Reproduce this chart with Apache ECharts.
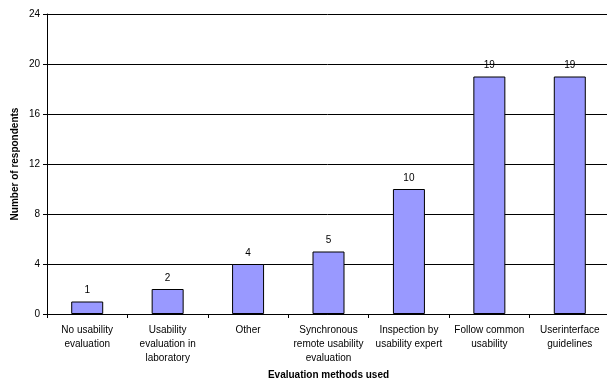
<!DOCTYPE html>
<html><head><meta charset="utf-8">
<script src="https://cdn.jsdelivr.net/npm/echarts@6/dist/echarts.min.js"></script>
<style>html,body{margin:0;padding:0;background:#fff}#c{width:607px;height:382px}</style>
</head><body><div id="c"></div>
<script>
const categories = ["No usability\nevaluation","Usability\nevaluation in\nlaboratory","Other","Synchronous\nremote usability\nevaluation","Inspection by\nusability expert","Follow common\nusability","Userinterface\nguidelines"];
const values = [1,2,4,5,10,19,19];
const yTicks = {min:0,max:24,interval:4};
const chart = echarts.init(document.getElementById('c'),null,{renderer:'canvas'});
const font = 'Liberation Sans, Arial, sans-serif';
chart.setOption({
  animation:false,
  grid:{left:47,top:14,width:563,height:300,outerBoundsMode:'none',containLabel:false},
  xAxis:{type:'category',data:categories,
    name:'Evaluation methods used',nameLocation:'middle',nameGap:56,
    nameTextStyle:{fontFamily:font,fontSize:10,fontWeight:'bold',color:'#000'},
    axisLine:{lineStyle:{color:'#000',width:1}},
    axisTick:{show:true,length:4,inside:false,lineStyle:{color:'#000'}},
    axisLabel:{fontFamily:font,fontSize:10,color:'#000',lineHeight:14,margin:9,interval:0}},
  yAxis:{type:'value',min:yTicks.min,max:yTicks.max,interval:yTicks.interval,
    name:'Number of respondents',nameLocation:'middle',nameGap:27,nameMoveOverlap:false,
    nameTextStyle:{fontFamily:font,fontSize:10,fontWeight:'bold',color:'#000'},
    axisLine:{show:true,lineStyle:{color:'#000',width:1}},
    axisTick:{show:true,length:4,lineStyle:{color:'#000'}},
    axisLabel:{fontFamily:font,fontSize:10,color:'#000',margin:7},
    splitLine:{show:true,lineStyle:{color:'#000',width:1}}},
  series:[{type:'bar',data:values,barWidth:32,
    itemStyle:{color:'#9999FF',borderColor:'#000',borderWidth:1},
    label:{show:true,position:'top',distance:6,fontFamily:font,fontSize:10,color:'#000'}}]
});
</script></body></html>
